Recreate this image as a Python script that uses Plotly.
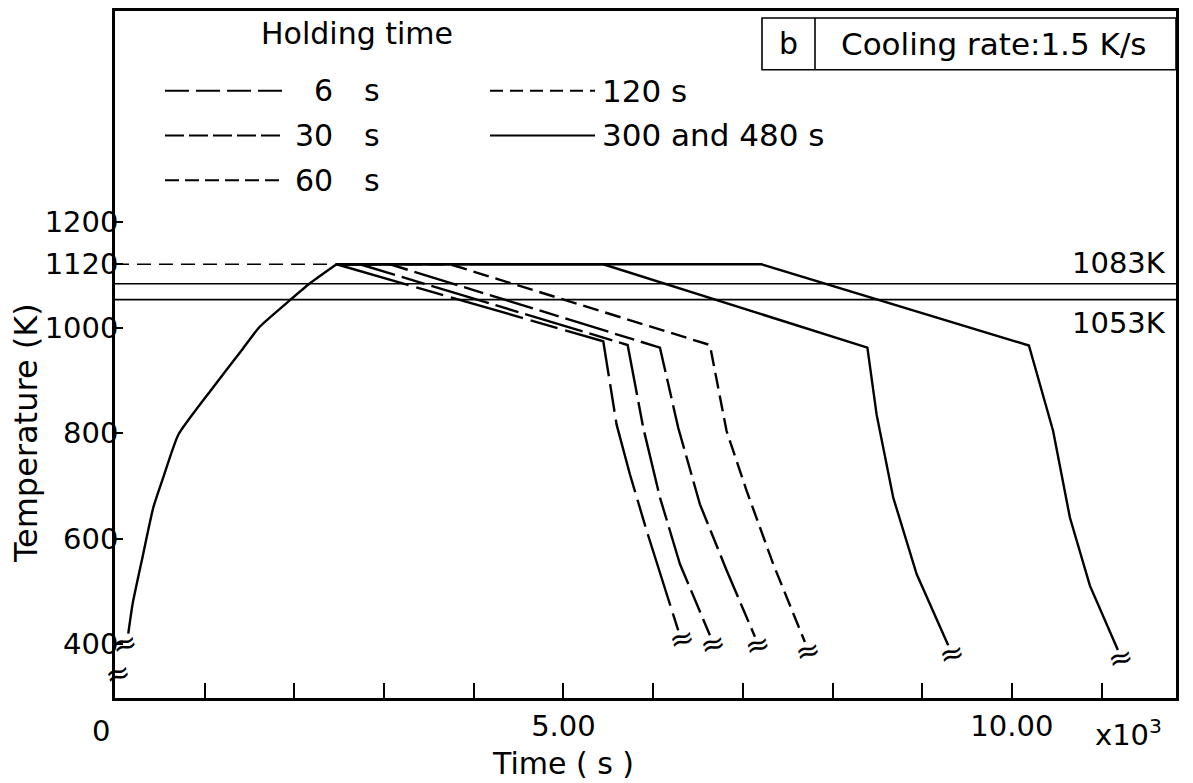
import plotly.graph_objects as go

# ---------------- data ----------------
heat_t = [148, 197, 298, 427, 538, 706, 1059, 1430, 1616, 1951, 2174, 2470]
heat_T = [420, 477, 558, 659, 716, 797, 879, 961, 1002, 1052, 1084, 1120]

hold_T = 1120
peak_t = 2470

curve_names = ["6 s", "30 s", "60 s", "120 s", "300 s", "480 s"]
c1_t = [2470, 5444, 5593, 5741, 5928, 6113, 6280]
c1_T = [1120, 974, 816, 722, 615, 515, 426]
c2_t = [2470, 2731, 5716, 5890, 6076, 6299, 6633]
c2_T = [1120, 1120, 967, 810, 678, 552, 417]
c3_t = [2470, 3066, 6076, 6280, 6522, 6819, 7135]
c3_T = [1120, 1120, 962, 810, 665, 540, 414]
c4_t = [2470, 3735, 6633, 6819, 7042, 7339, 7692]
c4_T = [1120, 1120, 967, 804, 691, 552, 404]
c5_t = [2470, 5444, 8389, 8492, 8677, 8938, 9290]
c5_T = [1120, 1120, 962, 835, 678, 533, 398]
c6_t = [2470, 7210, 10190, 10460, 10647, 10870, 11182]
c6_T = [1120, 1120, 966, 804, 640, 511, 389]

iso_T = [1083, 1053]
iso_labels = ["1083K", "1053K"]

x_ticks = list(range(0, 12000, 1000))
x_ticklabels = {5000: "5.00", 10000: "10.00"}
y_ticks = [400, 600, 800, 1000, 1120, 1200]

X_MAX = 11830
Y_MIN, Y_MAX = 298, 1600

# ---------------- styles ----------------
FONT = "DejaVu Sans"
FS = 29
curve_dashes = ["75px,8px,28px,8px", "60px,7px,24px,7px", "45px,7px,20px,7px",
                "16px,7px", None, None]
legend_dashes = ["24px,7px", "19px,5px", "14px,6px", "13px,7px", None]

fig = go.Figure()

# isotherms
for T in iso_T:
    fig.add_trace(go.Scatter(x=[0, X_MAX], y=[T, T], mode="lines",
                             line=dict(color="black", width=1.6),
                             showlegend=False, hoverinfo="skip"))
# 1120 K reference (dashed) to the peak
fig.add_trace(go.Scatter(x=[0, peak_t], y=[hold_T, hold_T], mode="lines",
                         line=dict(color="black", width=1.6, dash="14px,8px"),
                         showlegend=False, hoverinfo="skip"))
# heating
fig.add_trace(go.Scatter(x=heat_t, y=heat_T, mode="lines",
                         line=dict(color="black", width=2.4, shape="spline", smoothing=0.5),
                         showlegend=False))
curves = [(c1_t, c1_T), (c2_t, c2_T), (c3_t, c3_T),
          (c4_t, c4_T), (c5_t, c5_T), (c6_t, c6_T)]
for (t, T), d, name in zip(curves, curve_dashes, curve_names):
    ln = dict(color="black", width=2.4)
    if d:
        ln["dash"] = d
    fig.add_trace(go.Scatter(x=t, y=T, mode="lines", line=ln, name=name,
                             showlegend=False))

# ---------------- pixel helpers for layout decoration ----------------
L, R, TOP, B = 115, 1176, 8, 698
def px(x):
    return (x - L) / (R - L)
def py(y):
    return (B - y) / (B - TOP)

def txt(x, y, text, xanchor="center", yanchor="middle", size=FS, **kw):
    return dict(x=x, y=y, xref="paper", yref="paper", text=text, showarrow=False,
                xanchor=xanchor, yanchor=yanchor,
                font=dict(family=FONT, size=size, color="black"), **kw)

annotations = []
shapes = []

# break symbols at curve ends
BRK = dict(family=FONT, size=30, color="black")
for t, T in curves:
    annotations.append(dict(x=t[-1], y=T[-1], xref="x", yref="y", text="≈",
                            showarrow=False, font=BRK, xanchor="center", yanchor="middle",
                            textangle=-15, yshift=-8, xshift=3))
annotations.append(dict(x=heat_t[0], y=heat_T[0], xref="x", yref="y", text="≈",
                        showarrow=False, font=BRK, xanchor="center", yanchor="middle",
                        textangle=-15, yshift=-10, xshift=-4))
annotations.append(dict(x=0, y=345, xref="x", yref="y", text="≈",
                        showarrow=False, font=BRK, xanchor="center", yanchor="middle",
                        textangle=-15, xshift=2))

# isotherm labels
annotations.append(dict(x=X_MAX, y=iso_T[0], xref="x", yref="y", text=iso_labels[0],
                        showarrow=False, xanchor="right", yanchor="bottom",
                        xshift=-8, yshift=2, font=dict(family=FONT, size=FS, color="black")))
annotations.append(dict(x=X_MAX, y=iso_T[1], xref="x", yref="y", text=iso_labels[1],
                        showarrow=False, xanchor="right", yanchor="top",
                        xshift=-8, yshift=-4, font=dict(family=FONT, size=FS, color="black")))

# axis texts
annotations.append(dict(x=0, y=0, xref="x", yref="paper", text="0", showarrow=False,
                        xanchor="center", yanchor="top", xshift=-14, yshift=-14,
                        font=dict(family=FONT, size=FS, color="black")))
annotations.append(txt(px(1128), 0, "x10<sup>3</sup>", yanchor="top", yshift=-14))
annotations.append(dict(x=5000, y=0, xref="x", yref="paper", text="Time ( s )",
                        showarrow=False, xanchor="center", yanchor="top", yshift=-46,
                        font=dict(family=FONT, size=30, color="black")))
annotations.append(dict(x=px(26), y=800, xref="paper", yref="y", text="Temperature (K)",
                        showarrow=False, textangle=-90, xanchor="center", yanchor="middle",
                        font=dict(family=FONT, size=32, color="black")))

# legend (drawn)
annotations.append(txt(px(357), py(31), "Holding time", size=30))
left_rows = [(88, "6", legend_dashes[0]), (133, "30", legend_dashes[1]),
             (178, "60", legend_dashes[2])]
for yy, num, d in left_rows:
    shapes.append(dict(type="line", xref="paper", yref="paper", x0=px(165), x1=px(283),
                       y0=py(yy), y1=py(yy), line=dict(color="black", width=2, dash=d)))
    annotations.append(txt(px(335), py(yy), num, xanchor="right", size=30))
    annotations.append(txt(px(362), py(yy), "s", xanchor="left", size=30))
right_rows = [(88, "120 s", legend_dashes[3]), (133, "300 and 480 s", None)]
for yy, label, d in right_rows:
    ln = dict(color="black", width=2)
    if d:
        ln["dash"] = d
    shapes.append(dict(type="line", xref="paper", yref="paper", x0=px(490), x1=px(595),
                       y0=py(yy), y1=py(yy), line=ln))
    annotations.append(txt(px(600), py(yy), label, xanchor="left", size=31))

# "b | Cooling rate" box
shapes.append(dict(type="rect", xref="paper", yref="paper", x0=px(762), x1=px(1176),
                   y0=py(67), y1=py(15), line=dict(color="black", width=1.6)))
shapes.append(dict(type="line", xref="paper", yref="paper", x0=px(815), x1=px(815),
                   y0=py(67), y1=py(15), line=dict(color="black", width=1.6)))
annotations.append(txt(px(788), py(41), "b", size=30))
annotations.append(txt(px(993), py(41), "Cooling rate:1.5 K/s", size=31))

fig.update_layout(
    width=1193, height=783,
    margin=dict(l=L, r=1193 - R, t=TOP, b=783 - B),
    paper_bgcolor="white", plot_bgcolor="white",
    showlegend=False,
    annotations=annotations, shapes=shapes,
    font=dict(family=FONT, size=FS, color="black"),
)
fig.update_xaxes(range=[0, X_MAX], tickvals=x_ticks,
                 ticktext=[x_ticklabels.get(v, "") for v in x_ticks],
                 ticks="inside", ticklen=15, tickwidth=2, tickcolor="black",
                 showline=True, linewidth=2.5, linecolor="black", mirror=True,
                 showgrid=False, zeroline=False,
                 tickfont=dict(family=FONT, size=FS, color="black"))
fig.update_yaxes(range=[Y_MIN, Y_MAX], tickvals=y_ticks,
                 ticktext=[str(v) for v in y_ticks],
                 ticks="inside", ticklen=8, tickwidth=2, tickcolor="black",
                 ticklabelstandoff=-12,
                 showline=True, linewidth=2.5, linecolor="black", mirror=True,
                 showgrid=False, zeroline=False,
                 tickfont=dict(family=FONT, size=FS, color="black"))

fig.write_html("out.html")
